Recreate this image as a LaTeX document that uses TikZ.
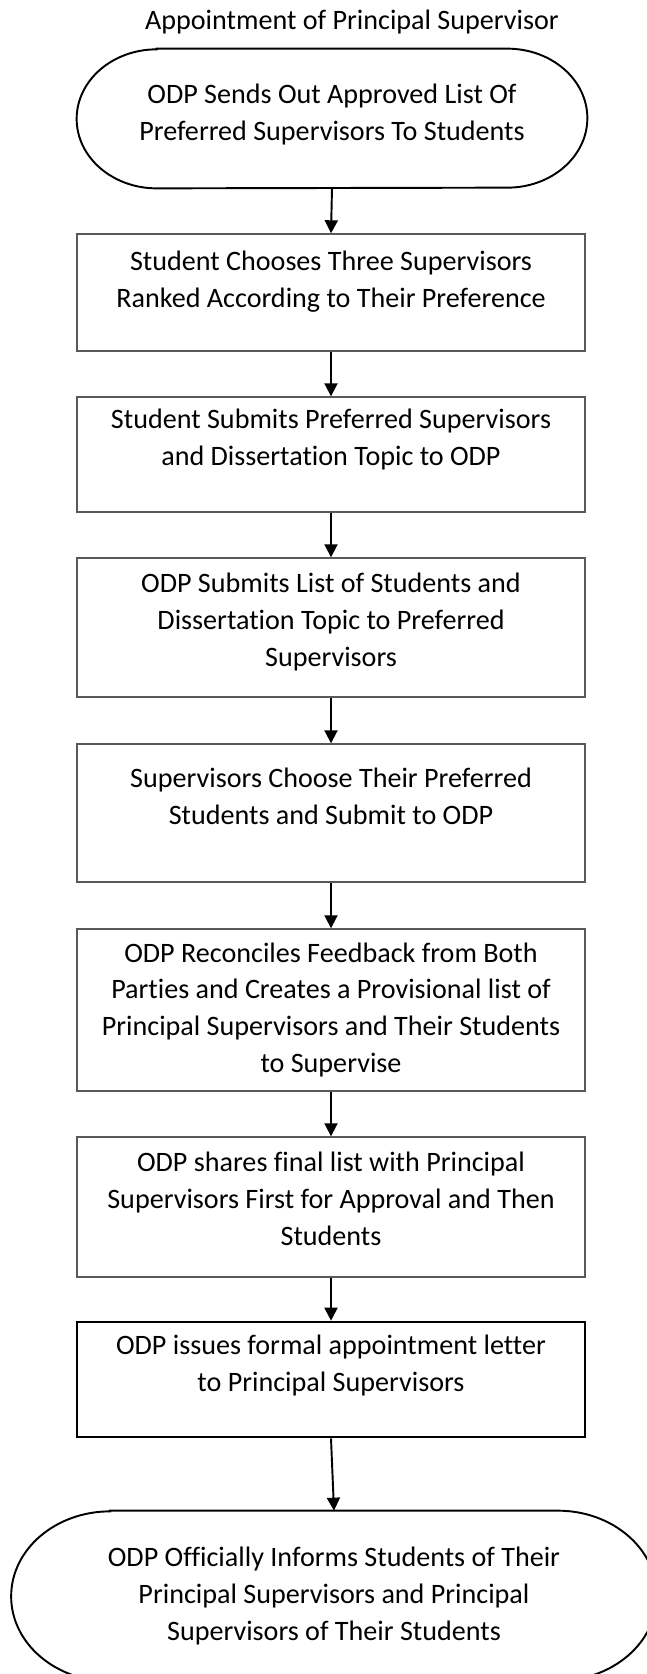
\documentclass[tikz,border=0pt]{standalone}
\usepackage{fontspec}
\setmainfont{Carlito}[Ligatures=NoCommon]
\usepackage{tikz}
\usetikzlibrary{arrows.meta}

\begin{document}
\begin{tikzpicture}[
    font=\fontsize{16}{21}\selectfont,
    stepbox/.style={draw=black!65, line width=0.8pt, minimum width=10.16cm, inner sep=0pt},
    terminal/.style={minimum width=10.2cm, inner sep=0pt},
    arrow/.style={-{Triangle[length=0.26cm,width=0.26cm]}, line width=1.1pt},
    outline/.style={line width=1.1pt}
]
\useasboundingbox (0,0) rectangle (12.94,-33.48);
\clip (0,0) rectangle (12.94,-33.48);

% Title
\node (title) at (7.04,-0.44) {Appointment of Principal Supervisor};

% Start
\node[terminal, minimum height=2.78cm] (start) at (6.64,-2.37) {
\begin{tabular}{c}
        ODP Sends Out Approved List Of\\
        Preferred Supervisors To Students\\[0.16cm]
    \end{tabular}
};
\draw[outline] ([xshift=1.6cm]start.north west) -- ([xshift=-1.6cm]start.north east)
    arc[start angle=90, end angle=-90, x radius=1.6cm, y radius=1.39cm]
    -- ([xshift=1.6cm]start.south west)
    arc[start angle=270, end angle=90, x radius=1.6cm, y radius=1.39cm] -- cycle;

% Choice
\node[stepbox, minimum height=2.34cm] (choose) at (6.62,-5.85) {
\begin{tabular}{c}
        Student Chooses Three Supervisors\\
        Ranked According to Their Preference\\[0.44cm]
    \end{tabular}
};

% Submission
\node[stepbox, minimum height=2.3cm] (submit) at (6.62,-9.09) {
\begin{tabular}{c}
        Student Submits Preferred Supervisors\\
        and Dissertation Topic to ODP\\[0.58cm]
    \end{tabular}
};

% Forwarding
\node[stepbox, minimum height=2.78cm] (forward) at (6.62,-12.55) {
\begin{tabular}{c}
        ODP Submits List of Students and\\
        Dissertation Topic to Preferred\\
        Supervisors\\[0.2cm]
    \end{tabular}
};

% Supervisor choice
\node[stepbox, minimum height=2.76cm] (pick) at (6.62,-16.26) {
\begin{tabular}{c}
        Supervisors Choose Their Preferred\\
        Students and Submit to ODP\\[0.56cm]
    \end{tabular}
};

% Reconciliation
\node[stepbox, minimum height=3.24cm] (reconcile) at (6.62,-20.2) {
\begin{tabular}{c}
        ODP Reconciles Feedback from Both\\
        Parties and Creates a Provisional list of\\
        Principal Supervisors and Their Students\\
        to Supervise
    \end{tabular}
};

% Final list
\node[stepbox, minimum height=2.8cm] (share) at (6.62,-24.14) {
\begin{tabular}{c}
        ODP shares final list with Principal\\
        Supervisors First for Approval and Then\\
        Students\\[0.22cm]
    \end{tabular}
};

% Letter
\node[stepbox, draw=black, line width=1.5pt, minimum height=2.3cm] (letter) at (6.62,-27.59) {
\begin{tabular}{c}
        ODP issues formal appointment letter\\
        to Principal Supervisors\\[0.54cm]
    \end{tabular}
};

% End
\node[terminal, minimum width=12.9cm, minimum height=3.4cm] (inform) at (6.68,-31.92) {
\begin{tabular}{c}
        ODP Officially Informs Students of Their\\
        Principal Supervisors and Principal\\
        Supervisors of Their Students
    \end{tabular}
};
\draw[outline] ([xshift=1.98cm]inform.north west) -- ([xshift=-1.98cm]inform.north east)
    arc[start angle=90, end angle=-90, x radius=1.98cm, y radius=1.7cm]
    -- ([xshift=1.98cm]inform.south west)
    arc[start angle=270, end angle=90, x radius=1.98cm, y radius=1.7cm] -- cycle;

% Arrows
\draw[arrow] (start.south) -- (choose.north);
\draw[arrow] (choose.south) -- (submit.north);
\draw[arrow] (submit.south) -- (forward.north);
\draw[arrow] (forward.south) -- (pick.north);
\draw[arrow] (pick.south) -- (reconcile.north);
\draw[arrow] (reconcile.south) -- (share.north);
\draw[arrow] (share.south) -- (letter.north);
\draw[arrow] (letter.south) -- (inform.north);
\end{tikzpicture}
\end{document}
